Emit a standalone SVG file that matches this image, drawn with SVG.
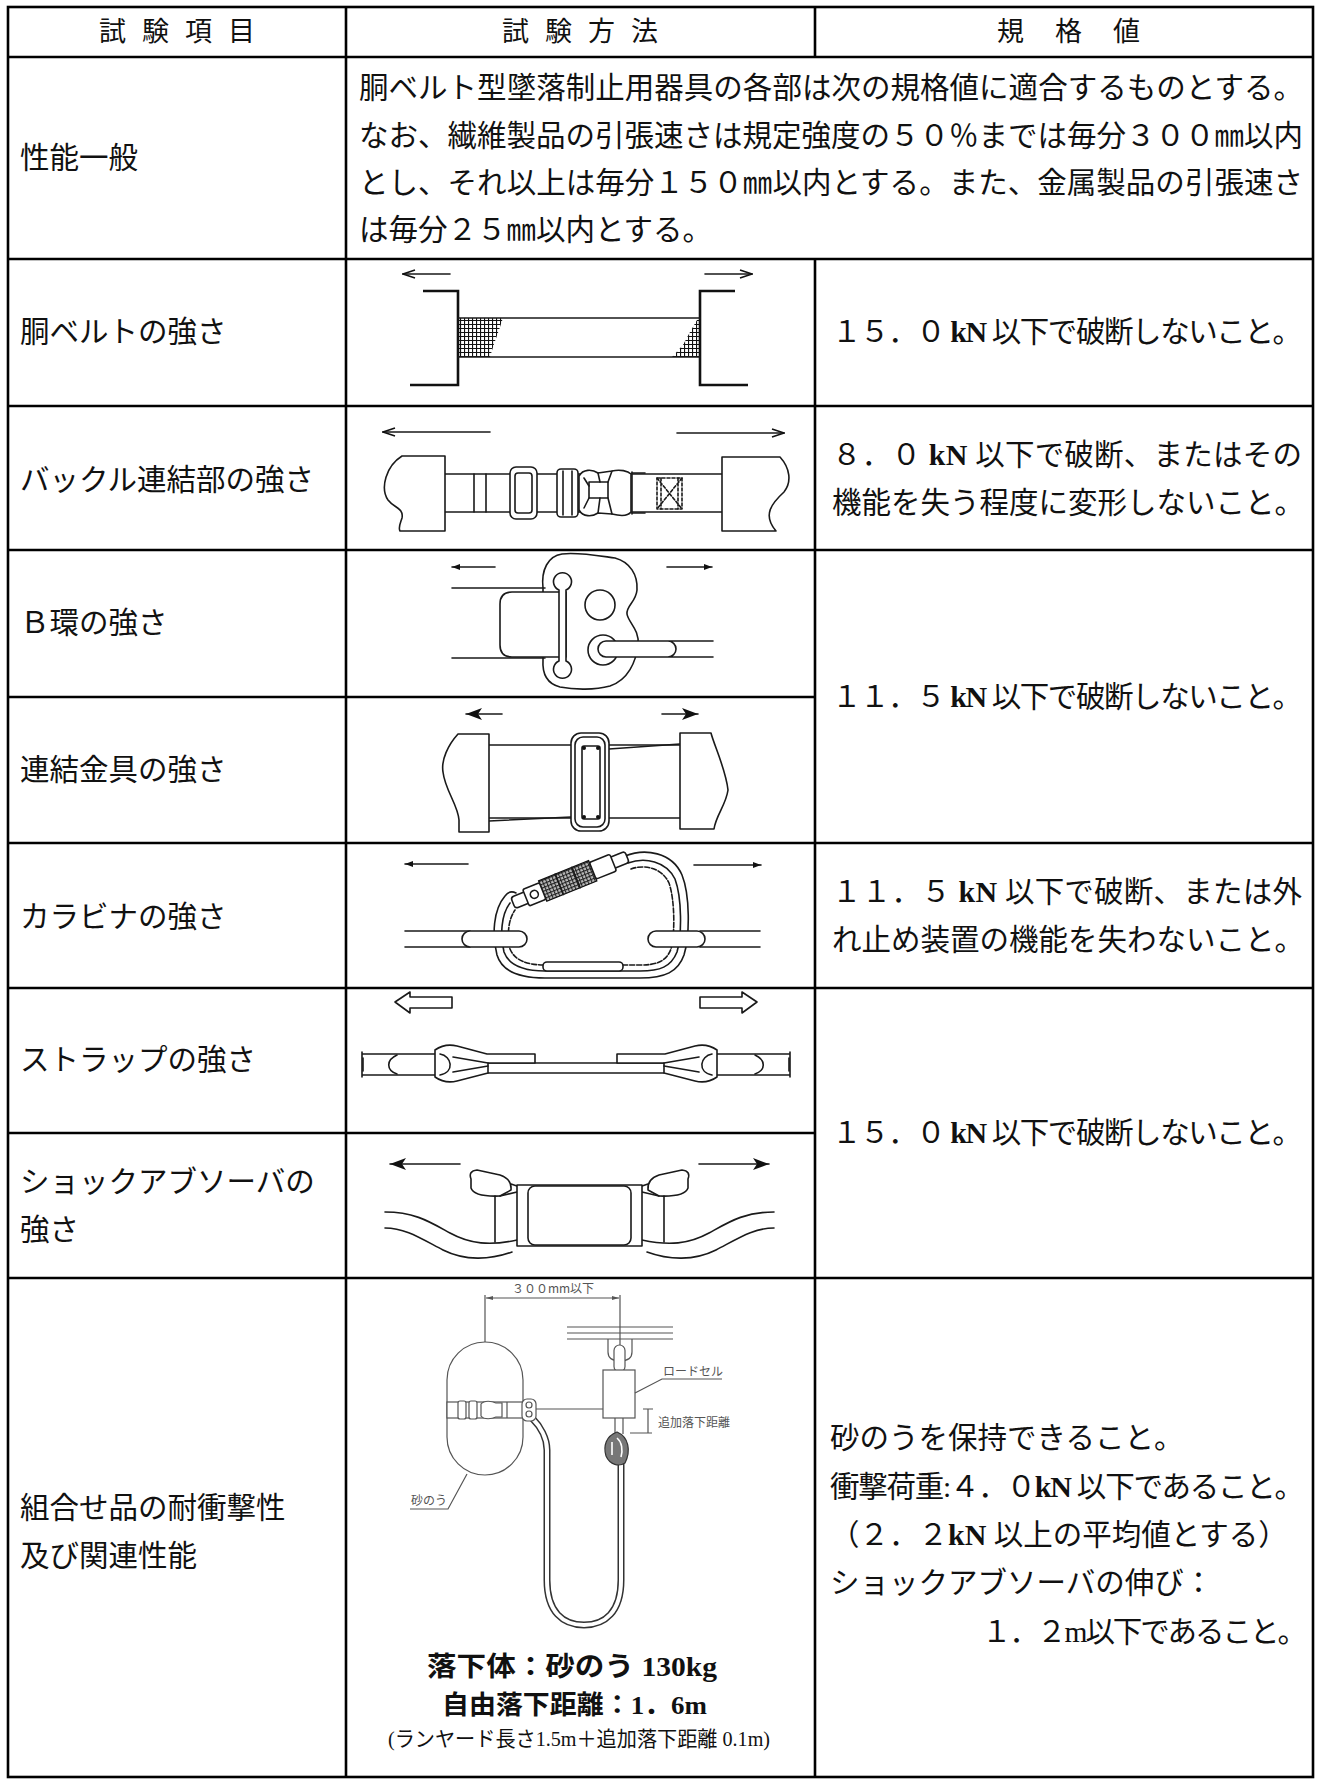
<svg xmlns="http://www.w3.org/2000/svg" width="1324" height="1781" viewBox="0 0 1324 1781">
<defs>
<style>
.tx{font-family:"Liberation Serif","Noto Sans CJK JP",serif;font-size:29.5px;fill:#111}
.kn{font-weight:bold;font-size:30px}
.hd{font-family:"Liberation Serif","Noto Sans CJK JP",serif;font-size:27px;fill:#111}
.bt{font-family:"Liberation Serif","Noto Sans CJK JP",serif;font-weight:bold;fill:#111}
.nt{font-family:"Liberation Serif","Noto Sans CJK JP",serif;font-weight:normal;fill:#111}
.ln{stroke:#000;stroke-width:2.6;fill:none}
.f{fill:none;stroke:#1a1a1a;stroke-width:1.6;stroke-linejoin:round;stroke-linecap:round}
.fk{fill:none;stroke:#111;stroke-width:2.6;stroke-linejoin:miter}
.fw{fill:#fff;stroke:#1a1a1a;stroke-width:1.6;stroke-linejoin:round}
.g{fill:none;stroke:#555;stroke-width:1.2}
.gw{fill:#fff;stroke:#555;stroke-width:1.2}
.lb{font-family:"Noto Sans CJK JP",sans-serif;font-size:12px;fill:#555}
</style>
<marker id="mOpen" viewBox="0 0 14 10" refX="13" refY="5" markerWidth="14" markerHeight="10" markerUnits="userSpaceOnUse" orient="auto"><path d="M1,1 L13,5 L1,9" fill="none" stroke="#111" stroke-width="1.6"/></marker>
<marker id="mSmall" viewBox="0 0 8 6" refX="8" refY="3" markerWidth="8" markerHeight="6" markerUnits="userSpaceOnUse" orient="auto"><path d="M0,0 L8,3 L0,6 Z" fill="#111"/></marker>
<marker id="mBig" viewBox="0 0 16 12" refX="16" refY="6" markerWidth="16" markerHeight="12" markerUnits="userSpaceOnUse" orient="auto"><path d="M0,0 L16,6 L0,12 L4,6 Z" fill="#111"/></marker>
<marker id="mDim" viewBox="0 0 7 4" refX="7" refY="2" markerWidth="7" markerHeight="4" markerUnits="userSpaceOnUse" orient="auto"><path d="M0,0 L7,2 L0,4 Z" fill="#555"/></marker>
<pattern id="grid" width="4" height="4" patternUnits="userSpaceOnUse"><rect width="4" height="4" fill="#fff"/><path d="M0,0.5 H4 M0.5,0 V4" stroke="#111" stroke-width="1.2"/></pattern>
<pattern id="knurl" width="3.5" height="3.5" patternUnits="userSpaceOnUse"><rect width="3.5" height="3.5" fill="#bbb"/><path d="M0,0.5 H3.5 M0.5,0 V3.5" stroke="#222" stroke-width="1.1"/></pattern>
<g id="strapHalf">
<path class="f" d="M362,1054 L440,1054 M362,1075 L440,1075 M362,1052 L362,1077"/>
<path class="f" stroke-width="3" d="M363,1058 L363,1071"/>
<path class="f" d="M397,1055 C386,1060 386,1070 397,1074"/>
<path class="fw" d="M435,1050 Q445,1043 457,1046 L487,1054 L535,1054 L535,1063 L488,1063 L488,1073 L457,1081 Q445,1084 435,1077 Z"/>
<path class="f" d="M440,1054 C452,1056 455,1072 440,1075"/>
<path class="f" d="M453,1057 L488,1063 M453,1072 L488,1066"/>
</g>
<g id="shockHalf">
<path class="f" stroke-width="2.2" d="M385,1212 C415,1212 430,1222 450,1233 C470,1244 490,1246 517,1240"/>
<path class="f" stroke-width="2.2" d="M385,1228 C405,1228 420,1238 443,1250 C465,1261 490,1260 512,1252"/>
<path class="fw" stroke-width="2.2" d="M471,1179 Q468,1171 477,1170 L500,1175 Q512,1179 511,1190 L500,1196 Q474,1197 471,1188 Z"/>
<path class="f" stroke-width="2.2" d="M500,1196 L517,1192 M511,1184 L517,1186 M495,1196 L495,1242"/>
</g>
</defs>
<rect x="0" y="0" width="1324" height="1781" fill="#fff"/>

<g id="grid-lines">
<rect class="ln" x="8" y="7" width="1305" height="1770"/>
<line class="ln" x1="346" y1="7" x2="346" y2="1777"/>
<line class="ln" x1="815" y1="7" x2="815" y2="57"/>
<line class="ln" x1="815" y1="259" x2="815" y2="1777"/>
<line class="ln" x1="8" y1="57" x2="1313" y2="57"/>
<line class="ln" x1="8" y1="259" x2="1313" y2="259"/>
<line class="ln" x1="8" y1="406" x2="1313" y2="406"/>
<line class="ln" x1="8" y1="550" x2="1313" y2="550"/>
<line class="ln" x1="8" y1="697" x2="815" y2="697"/>
<line class="ln" x1="8" y1="843" x2="1313" y2="843"/>
<line class="ln" x1="8" y1="988" x2="1313" y2="988"/>
<line class="ln" x1="8" y1="1133" x2="815" y2="1133"/>
<line class="ln" x1="8" y1="1278" x2="1313" y2="1278"/>
</g>

<g id="header">
<text class="hd" x="99 142 185 228" y="41">試験項目</text>
<text class="hd" x="502 545 588 631" y="41">試験方法</text>
<text class="hd" x="997 1055 1113" y="41">規格値</text>
</g>

<g id="row-general">
<text class="tx" x="20" y="168">性能一般</text>
<text class="tx" x="359" y="98" textLength="944" lengthAdjust="spacing">胴ベルト型墜落制止用器具の各部は次の規格値に適合するものとする。</text>
<text class="tx" x="359" y="146" textLength="944" lengthAdjust="spacing">なお、繊維製品の引張速さは規定強度の５０％までは毎分３００㎜以内</text>
<text class="tx" x="359" y="193" textLength="944" lengthAdjust="spacing">とし、それ以上は毎分１５０㎜以内とする。また、金属製品の引張速さ</text>
<text class="tx" x="359" y="240">は毎分２５㎜以内とする。</text>
</g>

<g id="row-belt">
<text class="tx" x="20" y="342">胴ベルトの強さ</text>
<g id="fig-belt">
<line class="f" x1="450" y1="274" x2="403" y2="274" marker-end="url(#mOpen)"/>
<line class="f" x1="705" y1="274" x2="752" y2="274" marker-end="url(#mOpen)"/>
<polygon points="458,318 503,318 499,330 494,344 490,357 458,357" fill="url(#grid)"/>
<polygon points="700,320 697,320 690,332 683,345 672,357 700,357" fill="url(#grid)"/>
<path class="fk" d="M423,291 L458,291 L458,385 L410,385"/>
<path class="fk" d="M735,291 L700,291 L700,385 L748,385"/>
<path class="f" stroke-width="2.4" d="M458,318 L700,318 M458,357 L700,357"/>
</g>
<text class="tx" x="832" y="342" textLength="470" lengthAdjust="spacing">１５．０ <tspan class="kn">kN</tspan> 以下で破断しないこと。</text>
</g>

<g id="row-buckle">
<text class="tx" x="20" y="490">バックル連結部の強さ</text>
<g id="fig-buckle">
<line class="f" x1="490" y1="432" x2="383" y2="432" marker-end="url(#mOpen)"/>
<line class="f" x1="677" y1="433" x2="784" y2="433" marker-end="url(#mOpen)"/>
<path class="f" d="M445,474 L722,474 M445,512 L722,512"/>
<path class="fw" d="M445,456 L402,456 C386,466 380,488 388,500 C394,508 404,508 402,518 C400,524 398,528 400,531 L445,531 Z"/>
<path class="fw" d="M722,457 L780,457 C790,468 792,482 784,492 C772,503 762,515 776,531 L722,531 Z"/>
<path class="f" d="M474,474 L474,512 M486,474 L486,512"/>
<rect class="fw" x="510" y="467" width="27" height="52" rx="6"/>
<rect class="f" x="515" y="473" width="17" height="40" rx="3"/>
<rect class="fw" x="557" y="469" width="21" height="48" rx="4"/>
<path class="f" d="M563,471 L563,515 M572,471 L572,515"/>
<path class="fw" d="M579,476 C583,469 592,469 598,473 L612,471 C620,469 628,471 631,474 L631,512 C628,516 620,516 612,514 L598,513 C592,517 583,517 579,510 Z"/>
<rect class="f" x="589" y="482" width="19" height="16"/>
<path class="f" d="M598,473 L600,482 M598,513 L600,498 M612,471 L608,482 M612,514 L608,498 M584,478 L589,486 M584,508 L589,498"/>
<path class="f" stroke-width="3" d="M632,472 L632,514"/>
<path class="f" d="M632,473 L645,473 M632,513 L645,513"/>
<rect class="f" x="657" y="478" width="25" height="31" stroke-dasharray="3,2"/>
<path class="f" stroke-width="1.2" stroke-dasharray="3,2" d="M657,478 L682,509 M682,478 L657,509 M661,478 L661,509 M678,478 L678,509"/>
</g>
<text class="tx" x="832" y="465" textLength="470" lengthAdjust="spacing">８．０ <tspan class="kn">kN</tspan> 以下で破断、またはその</text>
<text class="tx" x="832" y="513" textLength="472" lengthAdjust="spacing">機能を失う程度に変形しないこと。</text>
</g>

<g id="row-bring">
<text class="tx" x="20" y="633">Ｂ環の強さ</text>
<g id="fig-bring">
<line class="f" stroke-width="1.3" x1="495" y1="567" x2="452" y2="567" marker-end="url(#mSmall)"/>
<line class="f" stroke-width="1.3" x1="667" y1="567" x2="712" y2="567" marker-end="url(#mSmall)"/>
<path class="f" stroke-width="1.3" d="M543,588 C541,570 548,556 562,554 C578,552 600,556 615,558 C630,562 638,575 637,590 C636,602 626,606 627,614 C628,622 640,630 638,645 C636,662 628,680 610,686 C595,690 575,690 560,687 C548,684 542,676 543,660 Z"/>
<path class="f" stroke-width="1.3" d="M452,588 L545,588 M452,658 L545,658"/>
<path class="fw" stroke-width="1.3" d="M562,592 L512,592 Q500,592 500,604 L500,645 Q500,657 512,657 L562,657 Z"/>
<path class="f" stroke-width="1.3" d="M566,592 L566,657"/>
<path class="fw" stroke-width="1.3" d="M559,590 A9,9 0 1 1 566,590 L566,661 A9,9 0 1 1 559,661 Z"/>
<circle class="f" stroke-width="1.3" cx="600" cy="605" r="15"/>
<circle class="f" stroke-width="1.3" cx="603" cy="650" r="15"/>
<rect x="600" y="641" width="113" height="16" fill="#fff"/>
<path class="f" stroke-width="1.3" d="M606,641 L713,641 M606,657 L713,657 M606,641 A8,8 0 0 0 606,657 M668,641 A8,8 0 0 1 668,657"/>
</g>
</g>

<g id="row-connector">
<text class="tx" x="20" y="780">連結金具の強さ</text>
<g id="fig-connector">
<line class="f" stroke-width="3" x1="502" y1="714" x2="466" y2="714" marker-end="url(#mBig)"/>
<line class="f" stroke-width="3" x1="662" y1="714" x2="698" y2="714" marker-end="url(#mBig)"/>
<path class="f" stroke-width="2.2" d="M489,745 L680,745 M489,818 L680,818"/>
<path class="f" stroke-width="1.6" d="M609,749 L680,744 M489,821 L571,817"/>
<path class="fw" stroke-width="2.6" d="M489,734 L458,734 C448,745 441,760 443,772 C445,790 458,805 459,820 L459,832 L489,832 Z"/>
<path class="fw" stroke-width="2.6" d="M680,733 L711,733 C714,745 726,770 728,790 C726,805 716,815 714,829 L680,829 Z"/>
<rect class="fw" stroke-width="2.4" x="571" y="733" width="38" height="98" rx="10"/>
<rect class="f" stroke-width="1.4" x="575" y="737" width="30" height="90" rx="8"/>
<rect class="f" stroke-width="2" x="582" y="746" width="18" height="73" rx="2"/>
<circle cx="584" cy="748" r="2" fill="#111"/><circle cx="598" cy="748" r="2" fill="#111"/>
<circle cx="584" cy="817" r="2" fill="#111"/><circle cx="598" cy="817" r="2" fill="#111"/>
</g>
<text class="tx" x="832" y="707" textLength="470" lengthAdjust="spacing">１１．５ <tspan class="kn">kN</tspan> 以下で破断しないこと。</text>
</g>

<g id="row-carabiner">
<text class="tx" x="20" y="927">カラビナの強さ</text>
<g id="fig-carabiner">
<line class="f" stroke-width="1.2" x1="468" y1="864" x2="405" y2="864" marker-end="url(#mSmall)"/>
<line class="f" stroke-width="1.2" x1="694" y1="865" x2="761" y2="865" marker-end="url(#mSmall)"/>
<path class="f" stroke-width="1.6" d="M625,856 C645,848 672,852 682,875 C690,895 690,935 684,955 C678,972 665,978 640,978 L545,978 C520,978 502,972 497,955 C492,935 493,910 505,896 C508,892 512,891 516,893"/>
<path class="f" stroke-width="1.2" d="M628,863 C645,857 666,861 675,879 C682,898 682,935 677,952 C671,967 660,971 640,971 L545,971 C525,971 509,966 504,952 C500,935 501,915 510,903"/>
<path class="f" stroke-width="1" stroke-dasharray="5,2" d="M631,869 C645,864 662,868 669,883 C675,900 675,935 671,949 C666,962 656,965 640,965 L545,965 C528,965 515,961 510,949 C507,935 508,920 515,910"/>
<g transform="translate(513,903) rotate(-22)">
<rect class="fw" stroke-width="1.4" x="0" y="-6" width="123" height="12" rx="3"/>
<rect x="32" y="-11" width="54" height="22" fill="url(#knurl)" stroke="#111" stroke-width="1.2"/>
<path class="f" stroke-width="1.4" d="M50,-11 L50,11 M68,-11 L68,11"/>
<rect class="fw" stroke-width="1.2" x="14" y="-9" width="18" height="18" rx="2"/>
<circle class="f" stroke-width="1.2" cx="23" cy="0" r="4"/>
<rect class="fw" stroke-width="1.2" x="86" y="-9" width="22" height="18" rx="2"/>
</g>
<rect class="fw" stroke-width="1.4" x="543" y="962" width="80" height="9" rx="4"/>
<path class="f" stroke-width="1.4" d="M405,931 L470,931 M405,947 L470,947 M700,931 L760,931 M700,947 L760,947"/>
<rect class="fw" stroke-width="1.4" x="462" y="931" width="65" height="16" rx="8"/>
<rect class="fw" stroke-width="1.4" x="648" y="931" width="57" height="16" rx="8"/>
</g>
<text class="tx" x="832" y="902" textLength="470" lengthAdjust="spacing">１１．５ <tspan class="kn">kN</tspan> 以下で破断、または外</text>
<text class="tx" x="832" y="950" textLength="472" lengthAdjust="spacing">れ止め装置の機能を失わないこと。</text>
</g>

<g id="row-strap">
<text class="tx" x="20" y="1070">ストラップの強さ</text>
<g id="fig-strap">
<polygon class="fw" stroke-width="1.4" points="395,1002 410,992 410,997 452,997 452,1008 410,1008 410,1013"/>
<polygon class="fw" stroke-width="1.4" points="757,1002 742,992 742,997 700,997 700,1008 742,1008 742,1013"/>
<path class="f" d="M488,1063 L664,1063 M488,1073 L664,1073"/>
<use href="#strapHalf"/>
<use href="#strapHalf" transform="translate(1152,0) scale(-1,1)"/>
</g>
<text class="tx" x="832" y="1143" textLength="470" lengthAdjust="spacing">１５．０ <tspan class="kn">kN</tspan> 以下で破断しないこと。</text>
</g>

<g id="row-shock">
<text class="tx" x="20" y="1192">ショックアブソーバの</text>
<text class="tx" x="20" y="1240">強さ</text>
<g id="fig-shock">
<line class="f" stroke-width="3" x1="460" y1="1164" x2="390" y2="1164" marker-end="url(#mBig)"/>
<line class="f" stroke-width="3" x1="699" y1="1164" x2="769" y2="1164" marker-end="url(#mBig)"/>
<use href="#shockHalf"/>
<use href="#shockHalf" transform="translate(1159,0) scale(-1,1)"/>
<rect class="fw" stroke-width="2.2" x="517" y="1185" width="125" height="61"/>
<rect class="f" stroke-width="2" x="528" y="1186" width="103" height="59" rx="7"/>
</g>
</g>

<g id="row-combined">
<text class="tx" x="20" y="1518">組合せ品の耐衝撃性</text>
<text class="tx" x="20" y="1566">及び関連性能</text>
<g id="fig-combined">
<text class="lb" x="553" y="1293" text-anchor="middle" font-size="12.5">３００mm以下</text>
<line class="g" x1="553" y1="1298" x2="486" y2="1298" marker-end="url(#mDim)"/>
<line class="g" x1="553" y1="1298" x2="619" y2="1298" marker-end="url(#mDim)"/>
<path class="g" d="M485,1295 L485,1342 M620,1295 L620,1345"/>
<path class="g" d="M567,1327 L673,1327 M567,1333 L673,1333 M567,1339 L673,1339"/>
<path class="g" stroke-width="1.4" d="M608,1339 L608,1352 Q608,1361 620,1361 Q632,1361 632,1352 L632,1339"/>
<rect class="gw" stroke-width="1.6" x="614" y="1345" width="11" height="27" rx="5.5"/>
<rect class="gw" x="603" y="1370" width="32" height="48"/>
<path class="g" d="M635,1393 L662,1379 L722,1379"/>
<text class="lb" x="663" y="1376">ロードセル</text>
<path class="g" d="M530,1409 L603,1409 M648,1409 L648,1433 M630,1433 L652,1433 M643,1409 L653,1409"/>
<text class="lb" x="658" y="1427">追加落下距離</text>
<path class="g" d="M615,1418 L615,1434 M623,1418 L623,1434"/>
<path d="M621,1463 L621,1580 C621,1612 605,1625 584,1625 C563,1625 547,1612 547,1580 L547,1450 C547,1438 540,1426 532,1418" fill="none" stroke="#333" stroke-width="7"/>
<path d="M621,1463 L621,1580 C621,1612 605,1625 584,1625 C563,1625 547,1612 547,1580 L547,1450 C547,1438 540,1426 532,1418" fill="none" stroke="#fff" stroke-width="4"/>
<path d="M617,1432 C629,1437 631,1451 625,1463 C619,1467 610,1465 606,1456 C603,1446 606,1436 617,1432 Z" fill="#777" stroke="#333" stroke-width="1.2"/>
<path d="M617,1438 C622,1442 623,1450 621,1457 M612,1442 L612,1455" fill="none" stroke="#fff" stroke-width="1.6"/>
<rect class="gw" stroke-width="1.4" x="447" y="1342" width="76" height="133" rx="38"/>
<rect class="gw" x="447" y="1402" width="86" height="16"/>
<rect class="gw" stroke-width="1.4" x="458" y="1401" width="8" height="18" rx="2"/>
<rect class="gw" stroke-width="1.4" x="469" y="1401" width="8" height="18" rx="2"/>
<path class="gw" stroke-width="1.4" d="M481,1404 C484,1400 492,1401 496,1403 L502,1403 L502,1417 L496,1417 C492,1419 484,1420 481,1416 Z"/>
<path class="g" stroke-width="2" d="M507,1402 L507,1418"/>
<rect class="gw" stroke-width="1.6" x="522" y="1399" width="14" height="22" rx="5"/>
<circle class="g" cx="529" cy="1405" r="3"/><circle class="g" cx="529" cy="1414" r="3"/>
<text class="lb" x="411" y="1505">砂のう</text>
<path class="g" d="M410,1509 L448,1509 L467,1474"/>
<text class="bt" x="427" y="1676" font-size="27" textLength="290" lengthAdjust="spacingAndGlyphs">落下体：砂のう 130kg</text>
<text class="bt" x="442" y="1714" font-size="26" textLength="265" lengthAdjust="spacingAndGlyphs">自由落下距離：1．6m</text>
<text class="nt" x="388" y="1746" font-size="21" textLength="382" lengthAdjust="spacingAndGlyphs">(ランヤード長さ1.5m＋追加落下距離 0.1m)</text>
</g>
<text class="tx" x="830" y="1448">砂のうを保持できること。</text>
<text class="tx" x="830" y="1497" textLength="474" lengthAdjust="spacing">衝撃荷重:４．０<tspan class="kn">kN</tspan> 以下であること。</text>
<text class="tx" x="830" y="1545">（２．２<tspan class="kn">kN</tspan> 以上の平均値とする）</text>
<text class="tx" x="830" y="1593">ショックアブソーバの伸び：</text>
<text class="tx" x="982" y="1642" textLength="325" lengthAdjust="spacing">１．２m以下であること。</text>
</g>
</svg>
